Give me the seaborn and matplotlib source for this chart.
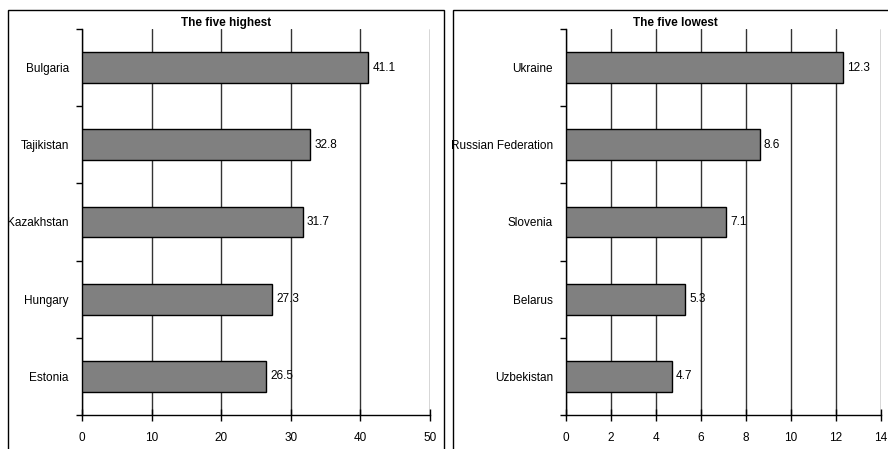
import matplotlib
matplotlib.use("Agg")
import matplotlib.pyplot as plt
from matplotlib.patches import Rectangle
from matplotlib.ticker import FixedLocator
import seaborn as sns
import pandas as pd

# Five highest and five lowest values
high_countries = ["Bulgaria", "Tajikistan", "Kazakhstan", "Hungary", "Estonia"]
high_values = [41.1, 32.8, 31.7, 27.3, 26.5]
low_countries = ["Ukraine", "Russian Federation", "Slovenia", "Belarus", "Uzbekistan"]
low_values = [12.3, 8.6, 7.1, 5.3, 4.7]

high_ticks = [0, 10, 20, 30, 40, 50]
low_ticks = [0, 2, 4, 6, 8, 10, 12, 14]

sns.set_theme(style="white")
plt.rcParams["font.family"] = ["Liberation Sans Narrow", "Liberation Sans", "DejaVu Sans"]

W, H = 888, 449
fig = plt.figure(figsize=(W / 100, H / 100), dpi=100)
fig.patch.set_facecolor("white")


def px_axes(x0, x1, ytop, ybot):
    return fig.add_axes([x0 / W, (H - ybot) / H, (x1 - x0) / W, (ybot - ytop) / H])


def draw_panel(ax, names, values, ticks, title, title_x):
    df = pd.DataFrame({"country": names, "value": values})
    sns.barplot(data=df, x="value", y="country", orient="h", width=0.4,
                color="#808080", saturation=1, edgecolor="black", linewidth=1,
                ax=ax, zorder=3)
    ax.set_xlim(ticks[0], ticks[-1])
    ax.set_ylim(len(names) - 0.5, -0.5)
    ax.set_xticks(ticks)
    ax.set_xticklabels([str(t) for t in ticks])
    ax.set_xlabel("")
    ax.set_ylabel("")
    ax.grid(axis="x", color="#333333", linewidth=1, zorder=0)
    ax.set_axisbelow(True)
    for side in ("top", "right"):
        ax.spines[side].set_visible(False)
    for side in ("left", "bottom"):
        ax.spines[side].set_color("black")
        ax.spines[side].set_linewidth(1)
    ax.yaxis.set_minor_locator(FixedLocator([i - 0.5 for i in range(len(names) + 1)]))
    ax.tick_params(axis="y", which="major", length=0, pad=9.5, labelsize=8.5, colors="black")
    ax.tick_params(axis="y", which="minor", left=True, length=4, width=1, color="black")
    ax.tick_params(axis="x", which="major", bottom=True, direction="inout", length=8,
                   width=1, color="black", pad=8, labelsize=8.5, labelcolor="black")
    for c in ax.containers:
        ax.bar_label(c, fmt="%.1f", padding=3, fontsize=8.5, color="black")
    fig.text(title_x / W, (H - 26) / H, title, ha="center", va="baseline",
             fontsize=8.5, fontweight="bold", color="black")


ax1 = px_axes(82, 430, 29, 415)
draw_panel(ax1, high_countries, high_values, high_ticks, "The five highest", 226)

ax2 = px_axes(566, 881, 29, 415)
draw_panel(ax2, low_countries, low_values, low_ticks, "The five lowest", 675)

# Panel frames
fig.add_artist(Rectangle((8 / W, -0.1), 436 / W, 0.1 + (H - 10) / H,
                         transform=fig.transFigure, fill=False,
                         edgecolor="black", linewidth=1))
fig.add_artist(Rectangle((453 / W, -0.1), 0.5, 0.1 + (H - 10) / H,
                         transform=fig.transFigure, fill=False,
                         edgecolor="black", linewidth=1))

fig.savefig("out.png", dpi=100, facecolor="white")
